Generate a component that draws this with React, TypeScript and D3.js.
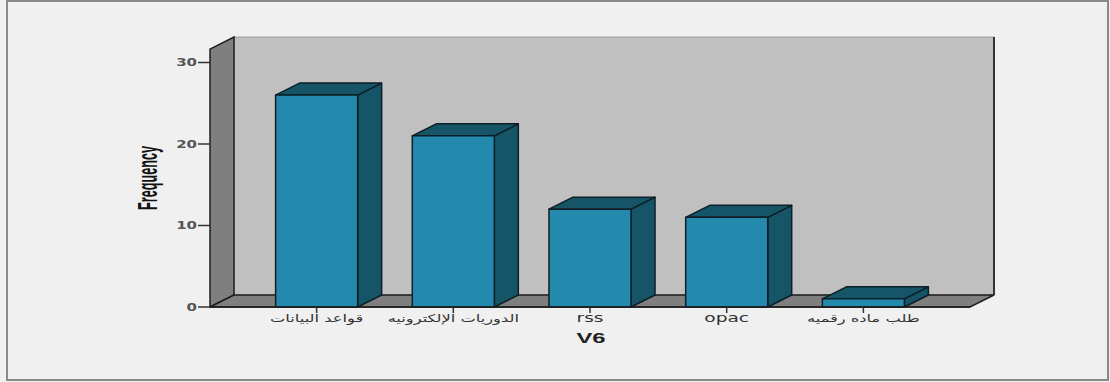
import React from "react";
import * as d3 from "d3";

// Frequency of each V6 response
const categories = ["قواعد البيانات", "الدوريات الإلكترونيه", "rss", "opac", "طلب ماده رقميه"];
const frequencies = [26, 21, 12, 11, 1];
const yTicks = [0, 10, 20, 30];
const yTop = 31.65;

const W = 1110;
const H = 382;
const left = 210;
const right = 970;
const base = 307;
const dx = 24;
const dy = 12;

const arabic = /[\u0600-\u06FF]/;

// Text widened horizontally around its anchor point
function WideText(props: {
  x: number;
  y: number;
  sx: number;
  anchor: "start" | "middle" | "end";
  size: number;
  family: string;
  weight?: string;
  fill: string;
  children: React.ReactNode;
}) {
  const { x, y, sx, anchor, size, family, weight, fill, children } = props;
  return (
    <g transform={`translate(${x},${y}) scale(${sx},1)`}>
      <text
        textAnchor={anchor}
        dy="0.35em"
        fontFamily={family}
        fontSize={size}
        fontWeight={weight ?? "normal"}
        fill={fill}
      >
        {children}
      </text>
    </g>
  );
}

export default function App() {
  const y = d3.scaleLinear().domain([0, 30]).range([base, 62.5]);
  const x = d3
    .scaleBand<string>()
    .domain(categories)
    .range([left, right])
    .paddingInner(0.4)
    .paddingOuter(0.48);
  const bw = x.bandwidth();
  const wallTop = y(yTop);

  const pts = (p: [number, number][]) => p.map((q) => q.join(",")).join(" ");

  return (
    <svg
      width={W}
      height={H}
      style={{ position: "absolute", left: 0, top: 0, background: "#f0f0f0" }}
    >
      <rect x={7} y={1} width={1101} height={379} fill="#f0f0f0" stroke="#8a8a8a" strokeWidth={2} />

      {/* back wall */}
      <rect
        x={left + dx}
        y={wallTop - dy}
        width={right - left}
        height={base - wallTop}
        fill="#c0c0c0"
        stroke="#9a9a9a"
        strokeWidth={1}
      />
      <line x1={right + dx} x2={right + dx} y1={wallTop - dy} y2={base - dy} stroke="#333" strokeWidth={2} />
      {/* left wall */}
      <polygon
        points={pts([
          [left, wallTop],
          [left + dx, wallTop - dy],
          [left + dx, base - dy],
          [left, base],
        ])}
        fill="#7f7f7f"
        stroke="#1e1e1e"
        strokeWidth={1.5}
      />
      {/* floor */}
      <polygon
        points={pts([
          [left, base],
          [left + dx, base - dy],
          [right + dx, base - dy],
          [right, base],
        ])}
        fill="#7f7f7f"
        stroke="#1e1e1e"
        strokeWidth={1.5}
      />

      {/* bars */}
      {categories.map((c, i) => {
        const x0 = x(c)!;
        const x1 = x0 + bw;
        const yt = y(frequencies[i]);
        return (
          <g key={c} stroke="#0d1f26" strokeWidth={1.5} strokeLinejoin="round">
            <polygon
              points={pts([
                [x1, yt],
                [x1 + dx, yt - dy],
                [x1 + dx, base - dy],
                [x1, base],
              ])}
              fill="#165468"
            />
            <polygon
              points={pts([
                [x0, yt],
                [x0 + dx, yt - dy],
                [x1 + dx, yt - dy],
                [x1, yt],
              ])}
              fill="#165468"
            />
            <rect x={x0} y={yt} width={bw} height={base - yt} fill="#238aad" />
          </g>
        );
      })}

      {/* y axis */}
      {yTicks.map((t) => (
        <g key={t}>
          <line x1={left - 12} x2={left} y1={y(t)} y2={y(t)} stroke="#333" strokeWidth={1.5} />
          <WideText
            x={left - 13}
            y={y(t)}
            sx={1.5}
            anchor="end"
            size={10}
            family="DejaVu Sans, sans-serif"
            weight="bold"
            fill="#555"
          >
            {t}
          </WideText>
        </g>
      ))}
      <text
        transform={`translate(157,178) rotate(-90)`}
        textAnchor="middle"
        fontFamily="Liberation Sans, Arial, sans-serif"
        fontSize={28}
        fontWeight="bold"
        textLength={64}
        lengthAdjust="spacingAndGlyphs"
        fill="#111"
      >
        Frequency
      </text>

      {/* x axis */}
      <line x1={left} x2={right} y1={base} y2={base} stroke="#1e1e1e" strokeWidth={1.5} />
      {categories.map((c) => {
        const cx = x(c)! + bw / 2;
        return (
          <g key={c}>
            <line x1={cx} x2={cx} y1={base} y2={base + 6} stroke="#333" strokeWidth={1.5} />
            <WideText
              x={cx}
              y={318}
              sx={1.55}
              anchor="middle"
              size={arabic.test(c) ? 10.5 : 12}
              family="DejaVu Sans, sans-serif"
              fill="#333"
            >
              {c}
            </WideText>
          </g>
        );
      })}
      <WideText
        x={(left + right) / 2 + 1}
        y={338}
        sx={1.7}
        anchor="middle"
        size={14}
        family="Liberation Sans, Arial, sans-serif"
        weight="bold"
        fill="#222"
      >
        V6
      </WideText>
    </svg>
  );
}
